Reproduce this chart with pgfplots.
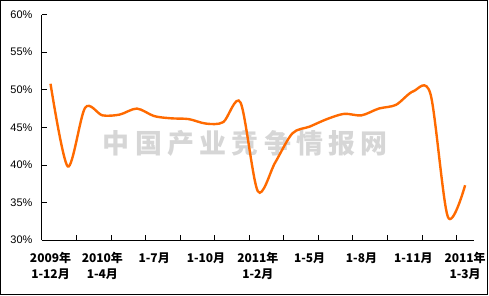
\documentclass[border=0pt]{standalone}
\usepackage{pgfplots}
\pgfplotsset{compat=1.18}
\usepackage{fontspec}
\setmainfont{Liberation Sans}
\newfontfamily\cjk{Noto Sans CJK SC}
\definecolor{lineorange}{HTML}{FF6A00}
\begin{document}
\begin{tikzpicture}
\begin{axis}[
  width=433pt, height=226pt, scale only axis,
  xmin=-0.5, xmax=24.5, ymin=30, ymax=60,
  axis lines*=left,
  axis line style={line width=1pt, black},
  tick align=inside,
  xtick={0,3,...,24},
  xticklabels={{2009年\\1-12月},{2010年\\1-4月},{1-7月},{1-10月},{2011年\\1-2月},{1-5月},{1-8月},{1-11月},{2011年\\1-3月}},
  major x tick style={draw=none},
  minor xtick={1.5,3.5,...,23.5},
  minor tick length=5pt,
  minor tick style={black, line width=0.8pt},
  ytick={30,35,...,60},
  major tick length=5pt,
  major y tick style={black, line width=0.8pt},
  yticklabel={\pgfmathprintnumber{\tick}\%},
  /pgf/number format/assume math mode=true,
  yticklabel style={font=\fontsize{11}{13}\selectfont, xshift=-6pt},
  xticklabel style={font=\cjk\bfseries\fontsize{12}{16}\selectfont, align=center, yshift=-9pt, anchor=north},
  clip=false,
]
\draw[line width=1pt, black] (axis description cs:-0.09584,-0.24248) rectangle (axis description cs:1.03118,1.06283);
\node[text=black!16, font=\cjk\bfseries\fontsize{27}{27}\selectfont, inner sep=0pt] at (axis description cs:0.471,0.428)
  {中\hspace{5.3pt}国\hspace{5.3pt}产\hspace{5.3pt}业\hspace{5.3pt}竞\hspace{5.3pt}争\hspace{5.3pt}情\hspace{5.3pt}报\hspace{5.3pt}网};
\addplot[lineorange, line width=2.4pt, smooth, tension=0.5] coordinates {
(0,50.8) (1,39.8) (2,47.6) (3,46.6) (4,46.7) (5,47.5) (6,46.5) (7,46.2) (8,46.1)
(9,45.5) (10,45.7) (11,48.3) (12,36.5) (13,40.3) (14,44.2) (15,45.1) (16,46.1)
(17,46.8) (18,46.6) (19,47.5) (20,48.0) (21,49.8) (22,49.4) (23,33.1) (24,37.3)
};
\end{axis}
\end{tikzpicture}
\end{document}
